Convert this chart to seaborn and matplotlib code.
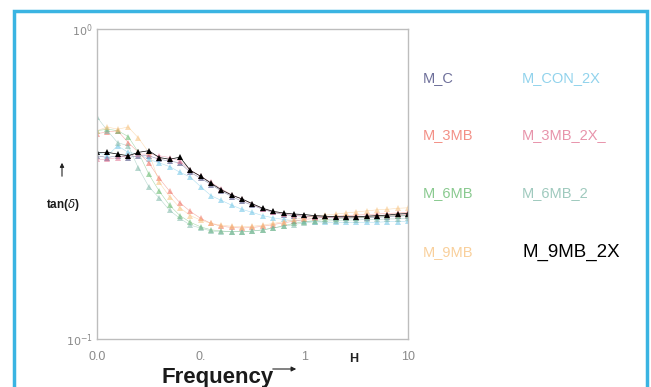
"""tan(delta) vs frequency, recreated with seaborn."""
import pandas as pd
import matplotlib
matplotlib.use('Agg')  # Non-interactive backend
import matplotlib.pyplot as plt
from matplotlib.patches import Rectangle, FancyArrowPatch
import seaborn as sns

# Frequency points (Hz), 10 per decade
freq = [0.01, 0.0126, 0.0158, 0.02, 0.0251, 0.0316, 0.0398, 0.0501, 0.0631, 0.0794,
        0.1, 0.126, 0.158, 0.2, 0.251, 0.316, 0.398, 0.501, 0.631, 0.794,
        1.0, 1.26, 1.58, 2.0, 2.51, 3.16, 3.98, 5.01, 6.31, 7.94, 10.0]

# tan(delta) values
m_c = [0.39, 0.385, 0.39, 0.385, 0.39, 0.39, 0.38, 0.375, 0.37, 0.345, 0.33,
       0.315, 0.30, 0.288, 0.278, 0.27, 0.262, 0.256, 0.252, 0.25, 0.249,
       0.248, 0.247, 0.246, 0.246, 0.246, 0.246, 0.247, 0.248, 0.249, 0.25]
m_con_2x = [0.40, 0.39, 0.42, 0.40, 0.395, 0.38, 0.37, 0.36, 0.345, 0.333, 0.31,
            0.29, 0.28, 0.27, 0.262, 0.256, 0.25, 0.246, 0.243, 0.241, 0.24,
            0.239, 0.238, 0.238, 0.238, 0.238, 0.238, 0.238, 0.239, 0.239, 0.24]
m_3mb = [0.46, 0.465, 0.47, 0.43, 0.40, 0.37, 0.33, 0.30, 0.275, 0.258, 0.245,
         0.236, 0.231, 0.229, 0.228, 0.229, 0.231, 0.234, 0.237, 0.24, 0.243,
         0.245, 0.247, 0.249, 0.25, 0.251, 0.252, 0.253, 0.254, 0.255, 0.256]
m_3mb_2x = [0.38, 0.38, 0.385, 0.39, 0.395, 0.395, 0.39, 0.385, 0.375, 0.35, 0.335,
            0.32, 0.305, 0.292, 0.282, 0.272, 0.263, 0.257, 0.253, 0.251, 0.249,
            0.248, 0.247, 0.247, 0.247, 0.247, 0.248, 0.249, 0.25, 0.251, 0.252]
m_6mb = [0.47, 0.475, 0.47, 0.45, 0.40, 0.34, 0.30, 0.27, 0.25, 0.238, 0.23,
         0.225, 0.223, 0.222, 0.222, 0.223, 0.225, 0.228, 0.232, 0.236, 0.239,
         0.241, 0.243, 0.244, 0.245, 0.246, 0.247, 0.248, 0.249, 0.25, 0.251]
m_6mb_2 = [0.52, 0.47, 0.43, 0.42, 0.356, 0.31, 0.285, 0.26, 0.245, 0.233, 0.228,
           0.223, 0.222, 0.222, 0.222, 0.223, 0.225, 0.228, 0.231, 0.234, 0.237,
           0.239, 0.24, 0.241, 0.242, 0.242, 0.243, 0.243, 0.244, 0.244, 0.245]
m_9mb = [0.47, 0.483, 0.475, 0.483, 0.445, 0.40, 0.32, 0.288, 0.265, 0.25, 0.242,
         0.236, 0.233, 0.231, 0.23, 0.231, 0.233, 0.236, 0.239, 0.243, 0.246,
         0.249, 0.251, 0.253, 0.255, 0.257, 0.259, 0.261, 0.262, 0.264, 0.265]
m_9mb_2x = [0.40, 0.40, 0.395, 0.39, 0.40, 0.405, 0.385, 0.38, 0.386, 0.35, 0.335,
            0.318, 0.303, 0.291, 0.283, 0.273, 0.264, 0.258, 0.255, 0.253, 0.252,
            0.25, 0.249, 0.248, 0.248, 0.248, 0.249, 0.25, 0.251, 0.253, 0.254]

series = {
    'M_C': m_c, 'M_CON_2X': m_con_2x,
    'M_3MB': m_3mb, 'M_3MB_2X': m_3mb_2x,
    'M_6MB': m_6mb, 'M_6MB_2': m_6mb_2,
    'M_9MB': m_9mb, 'M_9MB_2X': m_9mb_2x,
}
colors = {
    'M_C': '#3d3f78', 'M_CON_2X': '#6cc4e6',
    'M_3MB': '#ef6b5e', 'M_3MB_2X': '#e0708f',
    'M_6MB': '#62b86a', 'M_6MB_2': '#7fb8a8',
    'M_9MB': '#f7c07a', 'M_9MB_2X': '#000000',
}
legend_labels = ['M_C', 'M_CON_2X', 'M_3MB', 'M_3MB_2X_',
                 'M_6MB', 'M_6MB_2', 'M_9MB', 'M_9MB_2X']

df = pd.concat(
    [pd.DataFrame({'freq': freq, 'tan': vals, 'sample': name})
     for name, vals in series.items()],
    ignore_index=True)

sns.set_style("white")
plt.rcParams['font.family'] = ['Liberation Sans', 'DejaVu Sans']

fig = plt.figure(figsize=(6.51, 3.87), dpi=100)
W, H = 651.0, 387.0
ax = fig.add_axes([97 / W, 1 - 339 / H, 311 / W, 310 / H])

# colored series first, black on top
for name in series:
    sub = df[df['sample'] == name]
    black = name == 'M_9MB_2X'
    sns.lineplot(data=sub, x='freq', y='tan', color=colors[name], marker='^',
                 markersize=4.5, markeredgewidth=0,
                 linewidth=0.5 if black else 0.4,
                 alpha=1.0 if black else 0.55, ax=ax)

ax.set_xscale('log')
ax.set_yscale('log')
ax.set_xlim(0.01, 10)
ax.set_ylim(0.1, 1)
ax.set_xticks([0.01, 0.1, 1, 10])
ax.set_xticklabels(['0.0', '0.', '1', '10'])
ax.set_yticks([0.1, 1])
ax.set_yticklabels([r'$10^{-1}$', r'$10^{0}$'])
ax.minorticks_off()
ax.tick_params(axis='both', direction='in', length=3, color='#999999',
               labelcolor='#8a8a8a', labelsize=9)
ax.tick_params(axis='x', pad=9)
ax.tick_params(axis='y', pad=3, labelsize=8)
ax.set_xlabel('')
ax.set_ylabel('')
for sp in ax.spines.values():
    sp.set_color('#bdbdbd')
    sp.set_linewidth(1)

# unit marker on the frequency axis
ax.text(3.0, -0.045, 'H', transform=ax.get_xaxis_transform(), ha='center',
        va='top', fontsize=9, fontweight='bold', color='#222222')

# axis titles with arrows
fig.text(218 / W, 1 - 377 / H, 'Frequency', ha='center', va='center',
         fontsize=16, fontweight='bold', color='#1a1a1a')
fig.add_artist(FancyArrowPatch(
    (270 / W, 1 - 369 / H), (299 / W, 1 - 369 / H), transform=fig.transFigure,
    arrowstyle='-|>', mutation_scale=7, lw=0.8, color='#222222'))
fig.text(63 / W, 1 - 205 / H, r'tan($\delta$)', ha='center', va='center',
         fontsize=8.5, fontweight='bold', color='#1a1a1a')
fig.add_artist(FancyArrowPatch(
    (62 / W, 1 - 179 / H), (62 / W, 1 - 160 / H), transform=fig.transFigure,
    arrowstyle='-|>', mutation_scale=6, lw=0.8, color='#222222'))

# legend as plain coloured labels in two columns
rows_y = [78, 135, 193, 252]
cols_x = [423, 522]
for i, (name, lab) in enumerate(zip(series, legend_labels)):
    r, c = divmod(i, 2)
    big = name == 'M_9MB_2X'
    fig.text(cols_x[c] / W, 1 - rows_y[r] / H, lab, ha='left', va='center',
             fontsize=13.5 if big else 10.5, color=colors[name],
             alpha=1.0 if big else 0.75)

# cyan frame around the figure
fig.add_artist(Rectangle((14 / W, -0.05), 633 / W, 1.05 - 11 / H,
                         transform=fig.transFigure, fill=False,
                         edgecolor='#3ab4e2', linewidth=2.5))

fig.savefig('out.png', dpi=100)
